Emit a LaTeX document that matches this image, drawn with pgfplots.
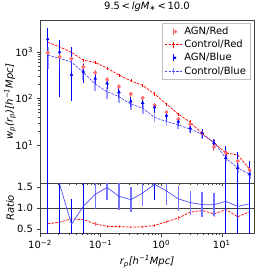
\documentclass[border=0pt]{standalone}
\usepackage{fontspec}
\setmainfont{DejaVu Sans}
\usepackage{pgfplots}
\pgfplotsset{compat=1.18}

\definecolor{mplred}{rgb}{1,0,0}
\definecolor{mplblue}{rgb}{0,0,1}
\definecolor{lred}{rgb}{1,0.42,0.42}
\definecolor{lblue}{rgb}{0.5,0.5,1}
\definecolor{mblue}{rgb}{0.3,0.3,1}
\definecolor{rblue}{rgb}{0.45,0.45,1}
\tikzset{mpldash/.style={dash pattern=on 2.6pt off 1.2pt}}

\begin{document}
\begin{tikzpicture}
\pgfplotsset{
  every axis/.append style={
    scale only axis, width=214pt,
    xmode=log, xmin=0.01, xmax=34,
    axis line style={black!75, line width=0.6pt},
    tick style={black!75, line width=0.5pt},
    tick align=outside, xtick pos=bottom, ytick pos=left,
    major tick length=3.5pt, minor tick length=2pt,
    font=\fontsize{10}{12}\selectfont,
  },
  errb/.style={error bars/y dir=both, error bars/y explicit, error bars/error mark=none},
}
\useasboundingbox (-40pt,-91pt) rectangle (234pt,183pt);
\begin{axis}[
  at={(0pt,0pt)}, anchor=south west,
  height=163pt,
  ymode=log, ymin=1.52, ymax=4900,
  xticklabels={}, xtick={0.01,0.1,1,10},
  ytick={10,100,1000},
  yticklabels={10\textsuperscript{1},10\textsuperscript{2},10\textsuperscript{3}},
  title={9.5\,<\,\textit{lgM}\textsubscript{∗}\,<\,10.0},
  title style={yshift=-1pt},
  ylabel={\textit{w\textsubscript{p}(r\textsubscript{p})[h\textsuperscript{−1}Mpc]}},
  ylabel style={at={(axis description cs:-0.14,0.5)}, anchor=center},
  legend style={at={(0.982,0.982)}, anchor=north east, draw=black!25, font=\fontsize{10}{12}\selectfont, inner sep=2pt},
  legend cell align=left,
]
\addplot[only marks, mark=*, mark size=1.8pt, color=lred, errb,
  error bars/error bar style={line width=1pt},
  legend image code/.code={\draw[lred,line width=1pt] (0.3cm,-0.12cm)--(0.3cm,0.12cm); \node[circle, fill=lred, inner sep=0pt, minimum size=3.6pt] at (0.3cm,0cm) {};}]
  coordinates {
(0.01340,965) +- (0,250)
(0.02104,790) +- (0,180)
(0.03304,720) +- (0,150)
(0.05188,480) +- (0,90)
(0.08147,360) +- (0,60)
(0.1279,255) +- (0,40)
(0.2009,180) +- (0,25)
(0.3155,125) +- (0,15)
(0.4955,103) +- (0,12)
(0.7780,72) +- (0,9)
(1.222,51) +- (0,6)
(1.919,36) +- (0,4)
(3.013,28) +- (0,3)
(4.732,18) +- (0,2.5)
(7.430,9.1) +- (0,1.5)
(11.67,6.8) +- (0,1.2)
(18.32,4.5) +- (0,1)
(28.77,2.9) +- (0,0.7)
  };
\addlegendentry{AGN/Red}
\addplot[mpldash, color=mplred, line width=0.7pt, mark=none, errb,
  error bars/error bar style={solid, line width=0.6pt},
  legend image code/.code={\draw[mplred,mpldash,line width=0.7pt] (0cm,0cm)--(0.6cm,0cm); \draw[mplred,line width=0.6pt] (0.3cm,-0.1cm)--(0.3cm,0.1cm);}]
  coordinates {
(0.01340,1620) +- (0,120)
(0.02104,1300) +- (0,90)
(0.03304,985) +- (0,70)
(0.05188,670) +- (0,50)
(0.08147,600) +- (0,45)
(0.1279,450) +- (0,35)
(0.2009,320) +- (0,25)
(0.3155,240) +- (0,18)
(0.4955,192) +- (0,14)
(0.7780,125) +- (0,10)
(1.222,76) +- (0,6)
(1.919,46) +- (0,4)
(3.013,31) +- (0,3)
(4.732,17.5) +- (0,1.8)
(7.430,11.2) +- (0,1.3)
(11.67,6.7) +- (0,0.9)
(18.32,6.1) +- (0,0.9)
(28.77,3.0) +- (0,0.5)
  };
\addlegendentry{Control/Red}
\addplot[only marks, mark=triangle*, mark size=1.6pt, color=mplblue, errb,
  error bars/error bar style={line width=1pt},
  legend image code/.code={\draw[mplblue,line width=1pt] (0.3cm,-0.12cm)--(0.3cm,0.12cm); \node[circle, fill=mplblue, inner sep=0pt, minimum size=3pt] at (0.3cm,0cm) {};}]
  coordinates {
(0.01340,1900) += (0,1370) -= (0,1899)
(0.02104,1000) += (0,800) -= (0,890)
(0.03304,325) += (0,955) -= (0,236)
(0.05188,380) += (0,165) -= (0,166)
(0.08147,270) += (0,65) -= (0,65)
(0.1279,213) += (0,55) -= (0,55)
(0.2009,138) += (0,35) -= (0,35)
(0.3155,87) += (0,20) -= (0,20)
(0.4955,81) += (0,20) -= (0,20)
(0.7780,65) += (0,15) -= (0,15)
(1.222,43) += (0,10) -= (0,10)
(1.919,32) += (0,7) -= (0,7)
(3.013,23) += (0,5) -= (0,5)
(4.732,18) += (0,4) -= (0,4)
(7.430,11) += (0,2.7) -= (0,2.7)
(11.67,5.3) += (0,4) -= (0,5.2)
(18.32,3.2) += (0,4) -= (0,3.15)
(28.77,2.35) += (0,2.2) -= (0,2.3)
  };
\addlegendentry{AGN/Blue}
\addplot[mpldash, color=mblue, line width=0.7pt, mark=none, errb,
  error bars/error bar style={solid, line width=1.8pt, opacity=0.55},
  legend image code/.code={\draw[mblue,mpldash,line width=0.7pt] (0cm,0cm)--(0.6cm,0cm); \draw[lblue,line width=1.8pt] (0.3cm,-0.12cm)--(0.3cm,0.12cm);}]
  coordinates {
(0.01340,860) +- (0,430)
(0.02104,730) +- (0,290)
(0.03304,610) +- (0,210)
(0.05188,365) +- (0,110)
(0.08147,205) +- (0,60)
(0.1279,140) +- (0,40)
(0.2009,110) +- (0,28)
(0.3155,76) +- (0,19)
(0.4955,62) +- (0,15)
(0.7780,39) +- (0,8)
(1.222,32) +- (0,6)
(1.919,27) +- (0,5)
(3.013,22) +- (0,4)
(4.732,17) +- (0,3.4)
(7.430,11.4) +- (0,2.3)
(11.67,5.2) +- (0,1)
(18.32,3.2) +- (0,0.7)
(28.77,2.35) +- (0,0.5)
  };
\addlegendentry{Control/Blue}
\end{axis}

\begin{axis}[
  at={(0pt,0pt)}, anchor=north west,
  height=50pt,
  ymin=0.4, ymax=1.6,
  ytick={0.5,1.0,1.5},
  yticklabels={0.5,1.0,1.5},
  xtick={0.01,0.1,1,10},
  xticklabels={10\textsuperscript{−2},10\textsuperscript{−1},10\textsuperscript{0},10\textsuperscript{1}},
  xlabel={\textit{r\textsubscript{p}[h\textsuperscript{−1}Mpc]}},
  ylabel={\textit{Ratio}},
  ylabel style={at={(axis description cs:-0.14,0.5)}, anchor=center},
]
\draw[black!75, line width=0.6pt] (axis cs:0.01,1.0) -- (axis cs:34,1.0);
\addplot[only marks, mark=-, mark size=0pt, color=lred, errb,
  error bars/error bar style={solid, line width=0.8pt}]
  coordinates {
(0.01340,0.62) += (0,0.62) -= (0,0.14)
(0.02104,0.66) +- (0,0.04)
(0.03304,0.74) +- (0,0.04)
(0.05188,0.72) +- (0,0.04)
(0.08147,0.62) +- (0,0.04)
(0.1279,0.56) +- (0,0.04)
(0.2009,0.555) +- (0,0.04)
(0.3155,0.54) +- (0,0.03)
(0.4955,0.55) +- (0,0.03)
(0.7780,0.58) +- (0,0.03)
(1.222,0.67) +- (0,0.04)
(1.919,0.76) +- (0,0.05)
(3.013,0.90) +- (0,0.06)
(4.732,0.94) +- (0,0.07)
(7.430,0.86) +- (0,0.08)
(11.67,0.96) +- (0,0.1)
(18.32,0.79) +- (0,0.1)
(28.77,0.91) +- (0,0.1)
  };
\addplot[mpldash, color=mplred, line width=0.7pt, mark=none]
  coordinates {
(0.01340,0.62)
(0.02104,0.66)
(0.03304,0.74)
(0.05188,0.72)
(0.08147,0.62)
(0.1279,0.56)
(0.2009,0.555)
(0.3155,0.54)
(0.4955,0.55)
(0.7780,0.58)
(1.222,0.67)
(1.919,0.76)
(3.013,0.90)
(4.732,0.94)
(7.430,0.86)
(11.67,0.96)
(18.32,0.79)
(28.77,0.91)
  };
\addplot[only marks, mark=-, mark size=0pt, color=mplblue, errb,
  error bars/error bar style={solid, line width=1pt}]
  coordinates {
(0.01340,2.2) +- (0,2)
(0.02104,1.58) +- (0,1.5)
(0.03304,0.61) +- (0,0.6)
(0.05188,1.04) +- (0,0.9)
(0.7780,1.57) +- (0,0.37)
(11.67,1.16) +- (0,1)
(18.32,1.04) +- (0,1)
(28.77,1.10) +- (0,1)
  };
\addplot[only marks, mark=-, mark size=0pt, color=rblue, errb,
  error bars/error bar style={solid, line width=1.4pt}]
  coordinates {
(0.08147,1.33) +- (0,0.35)
(0.1279,1.49) +- (0,0.3)
(0.2009,1.28) +- (0,0.32)
(0.3155,1.20) +- (0,0.3)
(0.4955,1.36) +- (0,0.32)
(1.222,1.41) +- (0,0.33)
(1.919,1.22) +- (0,0.3)
(3.013,1.13) +- (0,0.29)
(4.732,1.08) +- (0,0.3)
(7.430,1.08) +- (0,0.27)
  };
\addplot[color=mblue, line width=0.7pt, mark=none]
  coordinates {
(0.01340,2.2)
(0.02104,1.58)
(0.03304,0.61)
(0.05188,1.04)
(0.08147,1.33)
(0.1279,1.49)
(0.2009,1.28)
(0.3155,1.20)
(0.4955,1.36)
(0.7780,1.57)
(1.222,1.41)
(1.919,1.22)
(3.013,1.13)
(4.732,1.08)
(7.430,1.08)
(11.67,1.16)
(18.32,1.04)
(28.77,1.10)
  };
\end{axis}
\end{tikzpicture}
\end{document}
